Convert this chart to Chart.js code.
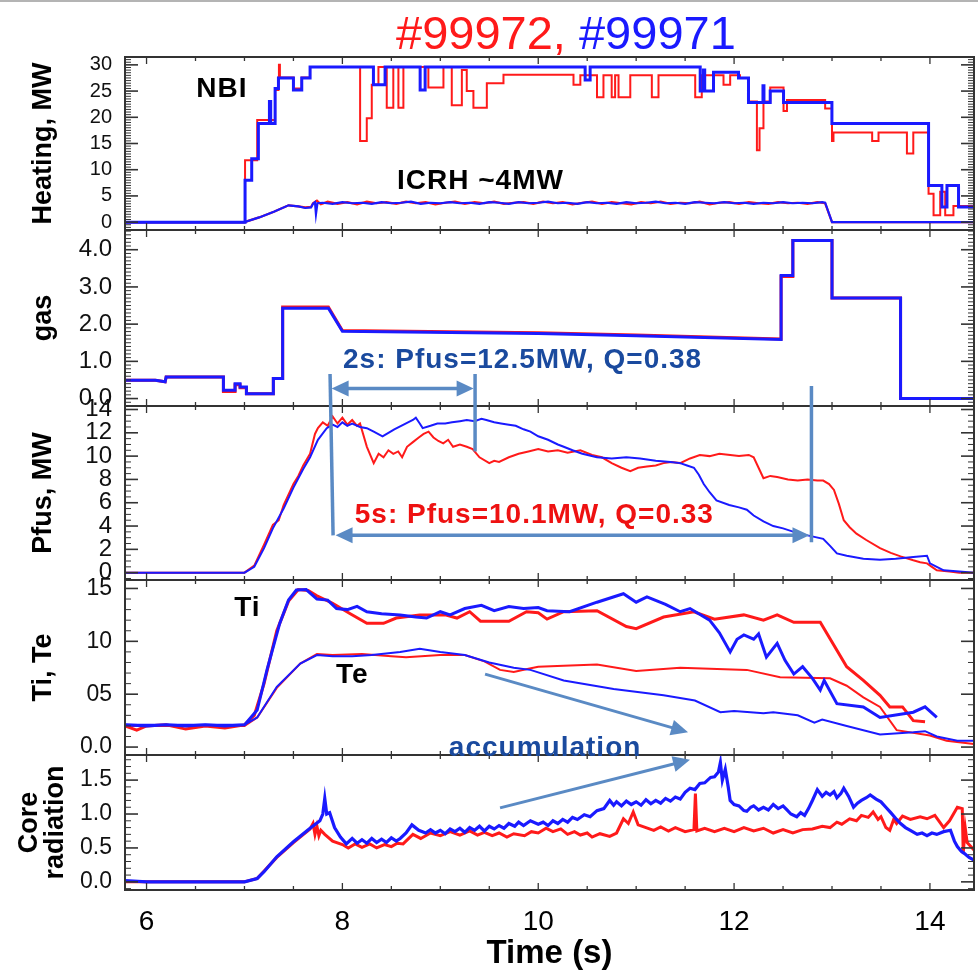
<!DOCTYPE html>
<html>
<head>
<meta charset="utf-8">
<script src="https://cdn.jsdelivr.net/npm/chart.js@4.4.1/dist/chart.umd.min.js"></script>
<style>
  html, body { margin: 0; padding: 0; background: #fff; }
  #wrap { position: relative; width: 978px; height: 971px; border-top: 2px solid #b4b4b4; box-sizing: border-box; }
  #c { position: absolute; left: 0; top: 0; }
  #shots { position: absolute; left: 396px; top: 7px; margin: 0; font: 47px/47px 'Liberation Sans', Arial, sans-serif; white-space: nowrap; }
  .r { color: #ff1a1a; }
  .b { color: #1a1aff; }
</style>
</head>
<body>
<div id="wrap">
  <canvas id="c" width="978" height="971"></canvas>
  <div id="shots"><span class="r">#99972,</span> <span class="b">#99971</span></div>
</div>
<script>
// ---- pulse traces: [time s, value] ----
// heating (MW): NBI step waveforms, ICRH
const nbi99972 = [[5.78,0],[7.006,11.8],[7.13,19.5],[7.313,25.2],[7.347,27.6],[7.352,30.0],[7.362,27.6],[7.5,25.5],[7.585,27.6],[7.67,29.6],[8.181,15.5],[8.249,19.8],[8.3,26.2],[8.368,29.6],[8.453,21.8],[8.52,29.6],[8.572,21.8],[8.623,29.6],[8.878,25.7],[9.032,29.6],[9.117,22.3],[9.22,29.0],[9.27,25.0],[9.338,21.8],[9.475,26.5],[9.645,28.1],[10.36,26.2],[10.43,28.0],[10.6,23.8],[10.666,28.0],[10.75,23.8],[10.785,28.0],[10.82,23.8],[10.94,28.0],[11.16,23.8],[11.228,28.0],[11.603,23.8],[11.67,28.0],[11.892,26.2],[11.96,28.0],[12.06,27.5],[12.147,23.0],[12.233,13.7],[12.26,17.9],[12.3,23.0],[12.369,25.7],[12.505,21.2],[12.54,23.3],[12.93,21.7],[13.0,15.5],[13.015,17.1],[13.41,15.5],[13.475,17.1],[13.765,13.1],[13.83,17.1],[13.986,5.4],[14.037,1.3],[14.105,5.8],[14.156,1.3],[14.24,3.1],[14.45,3.1]];
const nbi99971 = [[5.78,0],[7.006,8.0],[7.074,12.1],[7.142,18.8],[7.255,23.0],[7.268,18.8],[7.313,25.5],[7.347,27.5],[7.5,25.2],[7.585,27.5],[7.67,29.6],[8.317,26.2],[8.436,29.6],[8.794,25.2],[8.845,29.6],[10.479,27.1],[10.53,29.6],[11.654,25.0],[11.687,29.0],[11.70,25.0],[11.79,28.6],[12.045,27.5],[12.147,22.8],[12.295,26.0],[12.305,22.8],[12.369,25.0],[12.505,22.8],[12.999,18.8],[13.986,7.0],[14.122,2.9],[14.174,7.0],[14.292,2.9],[14.45,2.9]];
const icrh99972 = [[5.78,0],[7.0,0],[7.15,0.9],[7.3,2.0],[7.45,3.2],[7.55,3.0],[7.62,2.8],[7.68,2.9],[7.7,3.6],[7.74,4.1],[7.78,3.4],[7.85,3.9],[7.95,3.5],[8.05,3.8],[8.15,3.4],[8.25,3.9],[8.35,3.6],[8.45,3.8],[8.55,3.5],[8.65,3.9],[8.75,3.6],[8.85,3.8],[8.95,3.4],[9.05,3.7],[9.15,3.9],[9.25,3.5],[9.35,3.8],[9.45,3.6],[9.55,3.9],[9.65,3.5],[9.75,3.7],[9.85,3.8],[9.95,3.5],[10.05,3.9],[10.15,3.6],[10.25,3.8],[10.35,3.4],[10.45,3.7],[10.55,3.9],[10.65,3.5],[10.75,3.8],[10.85,3.6],[10.95,3.4],[11.05,3.8],[11.15,3.6],[11.25,3.9],[11.35,3.5],[11.45,3.7],[11.55,3.6],[11.65,3.9],[11.75,3.4],[11.85,3.7],[11.95,3.8],[12.05,3.5],[12.15,3.8],[12.25,3.6],[12.35,3.5],[12.45,3.8],[12.55,3.6],[12.65,3.7],[12.75,3.5],[12.85,3.8],[12.93,3.6],[13.0,0.0],[14.45,0.0]];
const icrh99971 = [[5.78,0],[7.0,0],[7.15,0.9],[7.3,2.0],[7.45,3.2],[7.55,3.0],[7.62,2.7],[7.68,2.8],[7.7,3.5],[7.72,3.8],[7.73,1.5],[7.745,3.6],[7.8,3.7],[7.9,3.5],[8.0,3.8],[8.1,3.6],[8.2,3.7],[8.3,3.5],[8.4,3.8],[8.5,3.6],[8.6,3.7],[8.7,3.9],[8.8,3.5],[8.9,3.7],[9.0,3.6],[9.1,3.8],[9.2,3.6],[9.3,3.7],[9.4,3.5],[9.5,3.8],[9.6,3.7],[9.7,3.5],[9.8,3.8],[9.9,3.6],[10.0,3.7],[10.1,3.9],[10.2,3.6],[10.3,3.7],[10.4,3.5],[10.5,3.8],[10.6,3.6],[10.7,3.7],[10.8,3.5],[10.9,3.8],[11.0,3.6],[11.1,3.7],[11.2,3.9],[11.3,3.6],[11.4,3.7],[11.5,3.5],[11.6,3.8],[11.7,3.7],[11.8,3.6],[11.9,3.8],[12.0,3.6],[12.1,3.7],[12.2,3.5],[12.3,3.7],[12.4,3.6],[12.5,3.8],[12.6,3.6],[12.7,3.7],[12.8,3.6],[12.9,3.8],[12.93,3.7],[13.0,0.0],[14.45,0.0]];

// gas injection
const gas99972 = [[5.78,0.49],[6.09,0.49],[6.19,0.45],[6.2,0.58],[6.785,0.58],[6.785,0.19],[6.904,0.19],[6.904,0.37],[6.955,0.37],[6.955,0.29],[7.02,0.29],[7.02,0.13],[7.295,0.13],[7.295,0.54],[7.39,0.54],[7.39,2.46],[7.857,2.46],[8.0,1.83],[10.0,1.77],[11.0,1.71],[12.48,1.6],[12.48,3.28],[12.6,3.28],[12.6,4.25],[13.0,4.25],[13.0,2.70],[13.7,2.70],[13.7,0.0],[14.45,0.0]];
const gas99971 = [[5.78,0.49],[6.09,0.49],[6.19,0.45],[6.2,0.58],[6.785,0.58],[6.785,0.22],[6.904,0.22],[6.904,0.40],[6.955,0.40],[6.955,0.31],[7.02,0.31],[7.02,0.13],[7.295,0.13],[7.295,0.54],[7.39,0.54],[7.39,2.43],[7.857,2.43],[8.0,1.81],[10.0,1.75],[11.0,1.69],[12.48,1.59],[12.48,3.31],[12.6,3.31],[12.6,4.25],[13.0,4.25],[13.0,2.70],[13.7,2.70],[13.7,0.0],[14.45,0.0]];

// fusion power (MW)
const pfus99972 = [[5.78,0],[7.0,0],[7.1,0.6],[7.2,2.4],[7.29,4.1],[7.35,4.5],[7.4,5.8],[7.5,7.6],[7.55,8.3],[7.6,9.2],[7.67,10.2],[7.72,11.9],[7.75,12.4],[7.8,12.9],[7.85,12.6],[7.9,13.4],[7.95,12.8],[8.0,13.3],[8.05,12.7],[8.1,13.1],[8.15,12.6],[8.18,12.8],[8.25,10.8],[8.32,9.4],[8.37,10.2],[8.42,9.9],[8.47,10.5],[8.52,10.2],[8.57,10.4],[8.61,9.9],[8.66,10.8],[8.72,11.2],[8.78,11.6],[8.83,11.9],[8.88,12.1],[8.93,11.6],[8.98,11.3],[9.03,11.1],[9.08,11.4],[9.13,10.8],[9.2,11.0],[9.27,10.8],[9.33,10.6],[9.4,9.9],[9.5,9.4],[9.55,9.6],[9.6,9.5],[9.7,9.9],[9.8,10.2],[9.9,10.4],[10.0,10.6],[10.1,10.4],[10.2,10.5],[10.3,10.3],[10.43,10.5],[10.55,10.1],[10.65,9.9],[10.75,9.4],[10.85,9.0],[10.94,8.7],[11.02,9.0],[11.11,9.1],[11.2,9.2],[11.28,9.4],[11.36,9.5],[11.45,9.4],[11.55,9.8],[11.65,10.1],[11.75,10.0],[11.85,10.2],[11.96,10.1],[12.05,10.0],[12.15,10.1],[12.2,9.9],[12.25,9.0],[12.3,8.1],[12.37,8.3],[12.44,8.2],[12.55,8.0],[12.65,7.9],[12.75,8.0],[12.85,7.9],[12.91,7.9],[12.97,7.6],[13.02,7.1],[13.07,5.9],[13.12,4.5],[13.18,3.9],[13.25,3.35],[13.35,2.8],[13.49,2.1],[13.6,1.7],[13.7,1.4],[13.83,1.06],[13.9,0.9],[13.97,0.8],[14.02,0.5],[14.07,0.2],[14.2,0.1],[14.3,0.0],[14.45,0.0]];
const pfus99971 = [[5.78,0],[7.0,0],[7.1,0.5],[7.2,2.1],[7.29,3.8],[7.4,5.5],[7.5,7.3],[7.6,8.9],[7.67,9.9],[7.75,11.4],[7.84,12.4],[7.9,12.7],[7.95,12.5],[8.0,12.9],[8.05,12.6],[8.1,12.8],[8.18,12.5],[8.25,12.4],[8.32,12.1],[8.41,11.7],[8.47,12.0],[8.53,12.3],[8.6,12.6],[8.67,12.9],[8.72,13.1],[8.75,13.3],[8.79,12.8],[8.82,12.4],[8.9,12.6],[8.97,12.8],[9.05,12.8],[9.12,12.9],[9.2,13.0],[9.27,13.1],[9.35,13.0],[9.42,13.2],[9.47,13.1],[9.55,12.9],[9.62,12.8],[9.7,12.7],[9.77,12.6],[9.85,12.3],[9.92,12.1],[10.0,11.7],[10.1,11.4],[10.2,11.0],[10.26,10.8],[10.35,10.5],[10.45,10.2],[10.6,9.9],[10.75,9.8],[10.9,9.9],[11.04,9.8],[11.2,9.6],[11.35,9.5],[11.45,9.4],[11.52,9.2],[11.59,9.0],[11.64,8.4],[11.69,7.6],[11.75,6.9],[11.82,6.2],[11.95,5.8],[12.05,5.6],[12.13,5.4],[12.2,4.9],[12.3,4.4],[12.4,4.0],[12.5,3.8],[12.61,3.5],[12.75,3.2],[12.91,2.9],[12.98,2.3],[13.05,1.65],[13.15,1.45],[13.32,1.2],[13.49,1.1],[13.65,1.2],[13.83,1.35],[13.97,1.45],[14.0,0.8],[14.07,0.5],[14.14,0.2],[14.3,0.1],[14.45,0.0]];

// ion and electron temperature (keV)
const ti99972 = [[5.78,2.0],[5.9,1.6],[6.0,2.0],[6.2,2.1],[6.4,1.7],[6.6,2.0],[6.8,1.8],[7.0,2.1],[7.1,3.0],[7.2,6.0],[7.33,11.0],[7.45,13.8],[7.55,14.9],[7.65,14.8],[7.74,14.3],[7.9,13.6],[8.08,12.6],[8.25,11.7],[8.42,11.7],[8.55,12.2],[8.79,12.5],[9.05,12.5],[9.17,12.2],[9.3,12.8],[9.41,11.9],[9.7,11.9],[9.88,12.8],[10.0,12.7],[10.09,12.1],[10.26,12.8],[10.6,12.9],[10.9,11.4],[11.0,11.2],[11.28,12.3],[11.59,12.8],[11.8,12.1],[12.1,12.5],[12.3,12.0],[12.44,12.5],[12.61,11.8],[12.88,11.8],[13.15,7.6],[13.32,6.3],[13.49,4.9],[13.59,3.8],[13.72,3.8],[13.83,2.5],[13.95,2.4]];
const ti99971 = [[5.78,2.1],[6.0,2.0],[6.2,2.1],[6.4,2.0],[6.6,2.1],[6.8,2.0],[7.0,2.1],[7.13,3.5],[7.23,7.3],[7.36,11.7],[7.45,13.9],[7.53,14.85],[7.63,14.9],[7.74,14.0],[7.85,13.9],[7.94,13.1],[8.05,13.0],[8.15,13.3],[8.25,12.8],[8.4,12.6],[8.59,12.5],[8.75,12.3],[8.86,12.2],[9.0,12.8],[9.1,12.5],[9.25,13.1],[9.42,13.4],[9.55,12.9],[9.7,13.3],[9.85,13.1],[10.0,13.2],[10.09,12.9],[10.32,12.8],[10.6,13.7],[10.87,14.5],[11.0,13.7],[11.11,14.2],[11.3,13.5],[11.45,12.8],[11.55,13.1],[11.75,12.0],[11.85,10.8],[11.96,9.0],[12.03,10.2],[12.1,10.6],[12.2,10.2],[12.25,10.7],[12.33,8.5],[12.44,9.8],[12.52,8.2],[12.61,6.9],[12.7,7.6],[12.8,6.5],[12.88,5.4],[12.92,6.3],[13.05,4.1],[13.32,3.8],[13.49,2.8],[13.83,3.3],[13.95,3.8],[14.07,2.8]];
const te99972 = [[5.78,2.0],[7.0,2.0],[7.13,2.8],[7.33,5.6],[7.57,7.9],[7.74,8.8],[7.9,8.7],[8.2,8.8],[8.5,8.6],[8.65,8.5],[9.0,8.7],[9.25,8.7],[9.45,8.1],[9.61,7.3],[9.75,7.1],[9.9,7.4],[10.0,7.6],[10.26,7.7],[10.6,7.8],[11.0,7.2],[11.45,7.5],[12.13,7.3],[12.47,6.6],[12.98,6.5],[13.15,5.8],[13.32,4.7],[13.49,3.8],[13.66,1.6],[14.0,1.1],[14.17,0.6],[14.45,0.3]];
const te99971 = [[5.78,2.1],[7.0,2.1],[7.13,2.8],[7.33,5.7],[7.57,7.9],[7.74,8.7],[7.9,8.6],[8.1,8.6],[8.3,8.7],[8.59,9.0],[8.79,9.3],[9.0,9.0],[9.25,8.7],[9.5,8.0],[9.75,7.5],[9.92,7.3],[10.26,6.3],[10.77,5.5],[11.28,4.9],[11.6,4.4],[11.86,3.3],[12.0,3.4],[12.3,3.2],[12.4,3.3],[12.65,3.0],[12.82,2.3],[12.9,2.6],[13.15,2.0],[13.49,1.2],[13.83,1.4],[13.95,1.5],[14.07,1.0],[14.28,0.6],[14.45,0.6]];

// core radiation
const rad99972 = [[5.78,0.0],[7.0,0.0],[7.13,0.05],[7.33,0.36],[7.5,0.58],[7.67,0.78],[7.7,0.86],[7.72,0.7],[7.74,0.82],[7.76,0.68],[7.78,0.76],[7.82,0.7],[7.9,0.6],[8.0,0.55],[8.06,0.5],[8.13,0.56],[8.2,0.51],[8.28,0.56],[8.35,0.5],[8.43,0.55],[8.5,0.52],[8.56,0.57],[8.62,0.56],[8.72,0.7],[8.8,0.64],[8.9,0.72],[9.0,0.68],[9.1,0.74],[9.2,0.69],[9.3,0.75],[9.38,0.69],[9.45,0.73],[9.53,0.68],[9.6,0.72],[9.68,0.66],[9.75,0.71],[9.86,0.68],[9.93,0.74],[10.0,0.72],[10.08,0.79],[10.15,0.74],[10.23,0.78],[10.3,0.7],[10.37,0.74],[10.43,0.69],[10.5,0.72],[10.55,0.66],[10.63,0.71],[10.73,0.67],[10.8,0.72],[10.87,0.93],[10.92,0.86],[10.97,1.03],[11.02,0.84],[11.1,0.8],[11.18,0.76],[11.25,0.81],[11.33,0.75],[11.4,0.8],[11.5,0.74],[11.59,0.77],[11.605,1.3],[11.62,0.75],[11.7,0.79],[11.8,0.74],[11.9,0.79],[12.0,0.74],[12.1,0.8],[12.2,0.75],[12.3,0.79],[12.4,0.72],[12.5,0.77],[12.6,0.72],[12.7,0.77],[12.8,0.78],[12.9,0.82],[12.98,0.8],[13.05,0.88],[13.1,0.85],[13.18,0.93],[13.25,0.9],[13.3,0.98],[13.37,0.95],[13.42,1.03],[13.47,0.92],[13.5,0.96],[13.55,0.8],[13.59,0.76],[13.63,0.92],[13.66,0.86],[13.72,0.97],[13.8,0.92],[13.9,0.96],[13.97,0.93],[14.05,0.98],[14.1,0.88],[14.14,0.8],[14.2,0.9],[14.28,1.1],[14.33,1.08],[14.34,0.42],[14.36,0.8],[14.38,0.58],[14.45,0.47]];
const rad99971 = [[5.78,0.02],[6.0,0.0],[7.0,0.0],[7.13,0.05],[7.2,0.15],[7.33,0.37],[7.5,0.59],[7.67,0.79],[7.77,0.9],[7.8,1.0],[7.82,1.23],[7.84,1.0],[7.87,1.02],[7.92,0.8],[7.98,0.66],[8.04,0.56],[8.1,0.64],[8.15,0.57],[8.2,0.62],[8.25,0.57],[8.3,0.64],[8.35,0.58],[8.4,0.63],[8.45,0.58],[8.5,0.65],[8.55,0.6],[8.59,0.64],[8.65,0.72],[8.71,0.84],[8.78,0.76],[8.85,0.72],[8.9,0.77],[8.95,0.72],[9.0,0.76],[9.05,0.71],[9.1,0.78],[9.15,0.74],[9.2,0.79],[9.25,0.73],[9.3,0.8],[9.35,0.76],[9.4,0.82],[9.45,0.75],[9.5,0.82],[9.55,0.78],[9.6,0.83],[9.65,0.79],[9.7,0.86],[9.76,0.82],[9.8,0.88],[9.85,0.83],[9.92,0.9],[10.0,0.85],[10.05,0.88],[10.1,0.83],[10.15,0.9],[10.2,0.86],[10.25,0.92],[10.3,0.88],[10.35,0.95],[10.4,0.92],[10.47,0.99],[10.53,0.96],[10.6,1.05],[10.67,1.08],[10.73,1.2],[10.77,1.13],[10.8,1.18],[10.85,1.12],[10.9,1.19],[10.95,1.14],[11.0,1.18],[11.05,1.13],[11.1,1.21],[11.15,1.15],[11.2,1.2],[11.25,1.16],[11.3,1.23],[11.35,1.19],[11.4,1.25],[11.45,1.22],[11.5,1.32],[11.55,1.38],[11.6,1.36],[11.65,1.45],[11.7,1.46],[11.76,1.54],[11.8,1.55],[11.84,1.62],[11.86,1.76],[11.88,1.5],[11.91,1.66],[11.94,1.4],[11.96,1.2],[12.0,1.14],[12.05,1.12],[12.1,1.05],[12.13,1.04],[12.17,1.1],[12.2,1.12],[12.25,1.06],[12.3,1.1],[12.35,1.06],[12.4,1.14],[12.45,1.08],[12.5,1.12],[12.54,1.06],[12.58,1.0],[12.64,0.96],[12.68,1.02],[12.72,0.98],[12.76,1.08],[12.8,1.2],[12.85,1.36],[12.88,1.3],[12.9,1.26],[12.94,1.32],[12.98,1.28],[13.02,1.33],[13.05,1.24],[13.09,1.3],[13.12,1.38],[13.17,1.26],[13.22,1.1],[13.26,1.16],[13.3,1.2],[13.35,1.24],[13.39,1.28],[13.45,1.22],[13.5,1.18],[13.55,1.1],[13.6,1.02],[13.66,0.92],[13.7,0.86],[13.75,0.8],[13.8,0.76],[13.87,0.7],[13.92,0.72],[13.97,0.68],[14.02,0.72],[14.07,0.7],[14.14,0.74],[14.21,0.76],[14.25,0.6],[14.28,0.52],[14.32,0.45],[14.35,0.42],[14.4,0.36],[14.45,0.32]];

// axis ticks and labels
const xTicks = [6, 8, 10, 12, 14];
const heatTicks = [0, 5, 10, 15, 20, 25, 30];
const heatTickLabels = ['0', '5', '10', '15', '20', '25', '30'];
const gasTicks = [0, 1, 2, 3, 4];
const gasTickLabels = ['0.0', '1.0', '2.0', '3.0', '4.0'];
const pfusTicks = [0, 2, 4, 6, 8, 10, 12, 14];
const pfusTickLabels = ['0', '2', '4', '6', '8', '10', '12', '14'];
const tempTicks = [0, 5, 10, 15];
const tempTickLabels = ['0.0', '05', '10', '15'];
const radTicks = [0, 0.5, 1.0, 1.5];
const radTickLabels = ['0.0', '0.5', '1.0', '1.5'];

const RED = '#ff1a1a';
const BLUE = '#1a1aff';
const FONT = "'Liberation Sans', Arial, Helvetica, sans-serif";
const ARROW = '#5a8ac4';
const NOTE_BLUE = '#1a4a9e';

// stacked panels, top to bottom
const panels = [
  { id: 'heat', h: 173, min: -1.5, max: 31.5, ticks: heatTicks, labels: heatTickLabels, major: 5, minor: 0.5, size: 20, title: 'Heating, MW' },
  { id: 'gas', h: 176, min: -0.2, max: 4.53, ticks: gasTicks, labels: gasTickLabels, major: 1, minor: 0.1, size: 24, title: 'gas' },
  { id: 'pfus', h: 174, min: -0.63, max: 14.3, ticks: pfusTicks, labels: pfusTickLabels, major: 2, minor: 0.5, size: 24, title: 'Pfus, MW' },
  { id: 'temp', h: 175, min: -0.75, max: 15.8, ticks: tempTicks, labels: tempTickLabels, major: 5, minor: 1, size: 23, title: 'Ti, Te' },
  { id: 'rad', h: 135, min: -0.12, max: 1.87, ticks: radTicks, labels: radTickLabels, major: 0.5, minor: 0.1, size: 23, title: ['Core', 'radiation'] }
];

function yScale(p, idx) {
  const multi = Array.isArray(p.title);
  return {
    type: 'linear',
    position: 'left',
    stack: 'panels',
    stackWeight: p.h,
    weight: panels.length - idx,
    min: p.min,
    max: p.max,
    afterBuildTicks: s => { s.ticks = p.ticks.map(v => ({ value: v })); },
    afterFit: s => { s.width = 125; },
    grid: { display: false },
    border: { display: false },
    ticks: {
      autoSkip: false,
      padding: 5,
      color: '#111',
      font: { family: FONT, size: p.size },
      callback: (v, i) => p.labels[i]
    },
    title: {
      display: true,
      text: p.title,
      color: '#000',
      font: { family: FONT, size: 27, weight: 'bold', lineHeight: multi ? 0.95 : 1.2 },
      padding: { top: multi ? 17 : 27, bottom: 0 }
    }
  };
}

const pts = arr => arr.map(([t, v]) => ({ x: t, y: v }));

function trace(data, axis, color, width, blueOnTop, stepped) {
  return {
    data: pts(data),
    yAxisID: axis,
    borderColor: color,
    borderWidth: width,
    pointRadius: 0,
    tension: 0,
    stepped: !!stepped,
    order: blueOnTop ? 0 : 1
  };
}

function line(ctx, x0, y0, x1, y1) {
  ctx.beginPath();
  ctx.moveTo(x0, y0);
  ctx.lineTo(x1, y1);
  ctx.stroke();
}

// filled arrow head at (x1, y1), pointing away from (x0, y0)
function arrowHead(ctx, x0, y0, x1, y1, len, half) {
  const a = Math.atan2(y1 - y0, x1 - x0);
  const c = Math.cos(a), s = Math.sin(a);
  ctx.beginPath();
  ctx.moveTo(x1, y1);
  ctx.lineTo(x1 - len * c + half * s, y1 - len * s - half * c);
  ctx.lineTo(x1 - len * c - half * s, y1 - len * s + half * c);
  ctx.closePath();
  ctx.fill();
}

function arrow(ctx, x0, y0, x1, y1, both) {
  const len = 17, half = 8;
  const a = Math.atan2(y1 - y0, x1 - x0);
  const c = Math.cos(a), s = Math.sin(a);
  const sx = both ? x0 + (len - 2) * c : x0, sy = both ? y0 + (len - 2) * s : y0;
  line(ctx, sx, sy, x1 - (len - 2) * c, y1 - (len - 2) * s);
  arrowHead(ctx, x0, y0, x1, y1, len, half);
  if (both) arrowHead(ctx, x1, y1, x0, y0, len, half);
}

// panel frames with inward ticks, arrows and in-plot notes
const panelDecor = {
  id: 'panelDecor',
  afterDatasetsDraw(chart) {
    const { ctx, chartArea, scales } = chart;
    const xs = scales.x;
    const X = t => xs.getPixelForValue(t);
    const Y = (id, v) => scales[id].getPixelForValue(v);
    const L = chartArea.left, R = chartArea.right;
    ctx.save();
    ctx.strokeStyle = '#333';
    panels.forEach(p => {
      const s = scales[p.id];
      const top = s.top, bot = s.bottom;
      ctx.lineWidth = 1.3;
      for (let n = 12; n <= 28; n++) {
        const px = X(n / 2);
        const len = n % 4 === 0 ? 7 : 4;
        line(ctx, px, top, px, top + len);
        line(ctx, px, bot, px, bot - len);
      }
      const n0 = Math.ceil(p.min / p.minor - 1e-9), n1 = Math.floor(p.max / p.minor + 1e-9);
      const perMajor = Math.round(p.major / p.minor);
      for (let n = n0; n <= n1; n++) {
        const py = s.getPixelForValue(n * p.minor);
        const len = n % perMajor === 0 ? 13 : 6;
        ctx.lineWidth = n % perMajor === 0 ? 1.6 : 1;
        line(ctx, L, py, L + len, py);
        line(ctx, R, py, R - len, py);
      }
      ctx.lineWidth = 2;
      ctx.strokeRect(L, top, R - L, bot - top);
    });

    // confinement windows and trend arrows
    ctx.strokeStyle = ARROW;
    ctx.fillStyle = ARROW;
    ctx.lineWidth = 3.5;
    line(ctx, X(7.874), Y('gas', 0.66), X(7.905), Y('pfus', 3.2));
    line(ctx, X(9.355), Y('gas', 0.66), X(9.355), Y('pfus', 10.4));
    line(ctx, X(12.79), Y('gas', 0.34), X(12.79), Y('pfus', 2.6));
    arrow(ctx, X(7.89), Y('gas', 0.27), X(9.34), Y('gas', 0.27), true);
    arrow(ctx, X(7.93), Y('pfus', 3.2), X(12.77), Y('pfus', 3.2), true);
    ctx.lineWidth = 3;
    arrow(ctx, X(9.457), Y('temp', 6.9), X(11.53), Y('temp', 1.4), false);
    arrow(ctx, X(9.61), Y('rad', 1.09), X(11.55), Y('rad', 1.8), false);

    ctx.textAlign = 'center';
    ctx.textBaseline = 'middle';
    ctx.font = 'bold 28px ' + FONT;
    if ('letterSpacing' in ctx) ctx.letterSpacing = '1px';
    const note = (text, color, t, id, v) => { ctx.fillStyle = color; ctx.fillText(text, X(t), Y(id, v)); };
    note('NBI', '#000', 6.77, 'heat', 25.3);
    note('ICRH ~4MW', '#000', 9.41, 'heat', 7.7);
    note('Ti', '#000', 7.03, 'temp', 13.1);
    note('Te', '#000', 8.1, 'temp', 6.8);
    note('2s: Pfus=12.5MW, Q=0.38', NOTE_BLUE, 9.84, 'gas', 1.04);
    note('5s: Pfus=10.1MW, Q=0.33', '#ee1111', 9.96, 'pfus', 4.96);
    note('accumulation', NOTE_BLUE, 10.07, 'temp', -0.1);
    ctx.restore();
  }
};

const scales = {
  x: {
    type: 'linear',
    position: 'bottom',
    min: 5.78,
    max: 14.45,
    afterBuildTicks: s => { s.ticks = xTicks.map(v => ({ value: v })); },
    afterFit: s => { s.height = 83; },
    grid: { display: false },
    border: { display: false },
    ticks: {
      autoSkip: false,
      maxRotation: 0,
      padding: 7,
      color: '#000',
      font: { family: FONT, size: 28 },
      callback: (v, i) => String(xTicks[i])
    },
    title: {
      display: true,
      text: 'Time (s)',
      color: '#000',
      font: { family: FONT, size: 33, weight: 'bold', lineHeight: 1.1 },
      padding: { top: 0, bottom: 1 }
    }
  }
};
panels.forEach((p, i) => { scales[p.id] = yScale(p, i); });

new Chart(document.getElementById('c'), {
  type: 'line',
  data: {
    datasets: [
      trace(nbi99972, 'heat', RED, 2, false, true),
      trace(nbi99971, 'heat', BLUE, 3, true, true),
      trace(icrh99972, 'heat', RED, 2.2, false),
      trace(icrh99971, 'heat', BLUE, 2.2, true),
      trace(gas99972, 'gas', RED, 3, false),
      trace(gas99971, 'gas', BLUE, 3, true),
      trace(pfus99972, 'pfus', RED, 2, false),
      trace(pfus99971, 'pfus', BLUE, 2, true),
      trace(ti99972, 'temp', RED, 3, false),
      trace(ti99971, 'temp', BLUE, 3, true),
      trace(te99972, 'temp', RED, 2, false),
      trace(te99971, 'temp', BLUE, 2, true),
      trace(rad99972, 'rad', RED, 3, false),
      trace(rad99971, 'rad', BLUE, 3.2, true)
    ]
  },
  options: {
    responsive: false,
    animation: false,
    devicePixelRatio: 1,
    layout: { padding: { top: 55, right: 4, bottom: 0, left: 0 } },
    scales: scales,
    plugins: {
      legend: { display: false },
      tooltip: { enabled: false }
    }
  },
  plugins: [panelDecor]
});
</script>
</body>
</html>
